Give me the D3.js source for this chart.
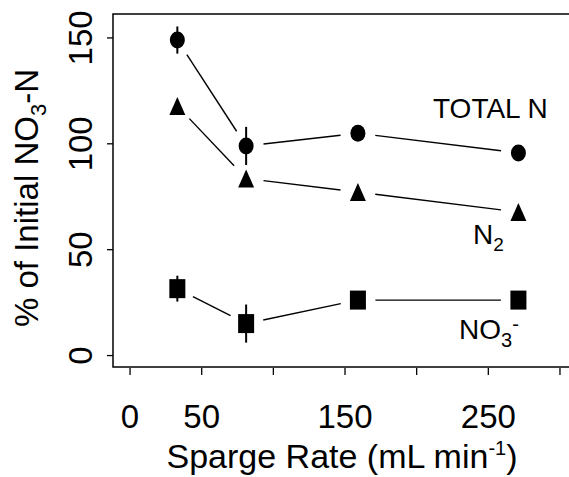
<!DOCTYPE html>
<html>
<head>
<meta charset="utf-8">
<script src="https://cdn.jsdelivr.net/npm/d3@7"></script>
<style>
  body { margin: 0; background: #fff; }
  text { font-family: "Liberation Sans", Arial, sans-serif; fill: #000; }
</style>
</head>
<body>
<div id="chart"></div>
<script>
// data
const rates = [33, 81, 159, 271];
const totalN = [149, 99, 105, 95.7];
const totalNErr = [6.4, 9, 0, 0];
const n2 = [117.9, 83.6, 77.2, 67.8];
const n2Err = [0, 0, 0, 0];
const no3 = [31.6, 15.1, 26.2, 26.2];
const no3Err = [6.1, 9, 0, 0];

const xTicks = [0, 50, 100, 150, 200, 250, 300];
const xTickLabels = ["0", "50", "", "150", "", "250", ""];
const yTicks = [0, 50, 100, 150];

const width = 569;
const height = 477;

const svg = d3.select("#chart")
  .append("svg")
  .attr("width", width)
  .attr("height", height)
  .attr("viewBox", [0, 0, width, height]);

const x = d3.scaleLinear().domain([-11.9, 306.3]).range([113, 569]);
const y = d3.scaleLinear().domain([-5.4, 161.3]).range([367, 14]);

// frame (open on the right, cut by the page edge)
svg.append("path")
  .attr("d", `M${width},${y.range()[1]}H${x.range()[0]}V${y.range()[0]}H${width}`)
  .attr("fill", "none")
  .attr("stroke", "#000")
  .attr("stroke-width", 1.5);

// y ticks
svg.append("g")
  .selectAll("line")
  .data(yTicks)
  .join("line")
  .attr("x1", 107).attr("x2", 113)
  .attr("y1", d => y(d)).attr("y2", d => y(d))
  .attr("stroke", "#000")
  .attr("stroke-width", 1.3);

svg.append("g")
  .selectAll("text")
  .data(yTicks)
  .join("text")
  .attr("transform", d => `translate(92,${y(d)}) rotate(-90)`)
  .attr("text-anchor", "middle")
  .attr("font-size", "33px")
  .text(d => d);

// x ticks
svg.append("g")
  .selectAll("line")
  .data(xTicks)
  .join("line")
  .attr("x1", d => x(d)).attr("x2", d => x(d))
  .attr("y1", 368).attr("y2", 375)
  .attr("stroke", "#000")
  .attr("stroke-width", 1.3);

svg.append("g")
  .selectAll("text")
  .data(xTicks)
  .join("text")
  .attr("x", d => x(d))
  .attr("y", 428)
  .attr("text-anchor", "middle")
  .attr("font-size", "33px")
  .text((d, i) => xTickLabels[i]);

// axis titles
const yTitle = svg.append("text")
  .attr("transform", "translate(38,198) rotate(-90)")
  .attr("text-anchor", "middle")
  .attr("font-size", "33px");
yTitle.append("tspan").text("% of Initial NO");
yTitle.append("tspan").attr("font-size", "22px").attr("dy", 8).text("3");
yTitle.append("tspan").attr("dy", -8).text("-N");

const xTitle = svg.append("text")
  .attr("x", 342)
  .attr("y", 468)
  .attr("text-anchor", "middle")
  .attr("font-size", "34px");
xTitle.append("tspan").text("Sparge Rate (mL min");
xTitle.append("tspan").attr("font-size", "20px").attr("dy", -13).text("-1");
xTitle.append("tspan").attr("dy", 13).text(")");

// series
const series = [
  { name: "total", values: totalN, err: totalNErr, shape: "circle" },
  { name: "n2", values: n2, err: n2Err, shape: "triangle" },
  { name: "no3", values: no3, err: no3Err, shape: "square" }
];

const gap = 17.5;

series.forEach(s => {
  const pts = rates.map((r, i) => ({ px: x(r), py: y(s.values[i]), v: s.values[i], e: s.err[i] }));

  // connecting segments, stopped short of the markers
  svg.append("g")
    .selectAll("line")
    .data(d3.pairs(pts))
    .join("line")
    .each(function([a, b]) {
      const dx = b.px - a.px, dy = b.py - a.py;
      const len = Math.hypot(dx, dy);
      const ux = dx / len, uy = dy / len;
      d3.select(this)
        .attr("x1", a.px + ux * gap).attr("y1", a.py + uy * gap)
        .attr("x2", b.px - ux * gap).attr("y2", b.py - uy * gap);
    })
    .attr("stroke", "#000")
    .attr("stroke-width", 1.4);

  // error bars
  svg.append("g")
    .selectAll("line")
    .data(pts.filter(p => p.e > 0))
    .join("line")
    .attr("x1", p => p.px).attr("x2", p => p.px)
    .attr("y1", p => y(p.v - p.e)).attr("y2", p => y(p.v + p.e))
    .attr("stroke", "#000")
    .attr("stroke-width", 2);

  // markers
  const g = svg.append("g").attr("fill", "#000");
  if (s.shape === "circle") {
    g.selectAll("ellipse")
      .data(pts)
      .join("ellipse")
      .attr("cx", p => p.px).attr("cy", p => p.py)
      .attr("rx", 7.5).attr("ry", 8.5);
  } else if (s.shape === "triangle") {
    g.selectAll("path")
      .data(pts)
      .join("path")
      .attr("d", p => `M${p.px},${p.py - 9}L${p.px + 8},${p.py + 9}L${p.px - 8},${p.py + 9}Z`);
  } else {
    g.selectAll("rect")
      .data(pts)
      .join("rect")
      .attr("x", p => p.px - 8).attr("y", p => p.py - 9.5)
      .attr("width", 16).attr("height", 19);
  }
});

// series labels
svg.append("text")
  .attr("x", 433).attr("y", 118)
  .attr("font-size", "28px")
  .text("TOTAL N");

const n2Label = svg.append("text")
  .attr("x", 473).attr("y", 244)
  .attr("font-size", "28px");
n2Label.append("tspan").text("N");
n2Label.append("tspan").attr("font-size", "19px").attr("dy", 7).text("2");

const no3Label = svg.append("text")
  .attr("x", 459).attr("y", 339)
  .attr("font-size", "28px");
no3Label.append("tspan").text("NO");
no3Label.append("tspan").attr("font-size", "20px").attr("dy", 8).text("3");
no3Label.append("tspan").attr("font-size", "20px").attr("dy", -16).text("-");
</script>
</body>
</html>
